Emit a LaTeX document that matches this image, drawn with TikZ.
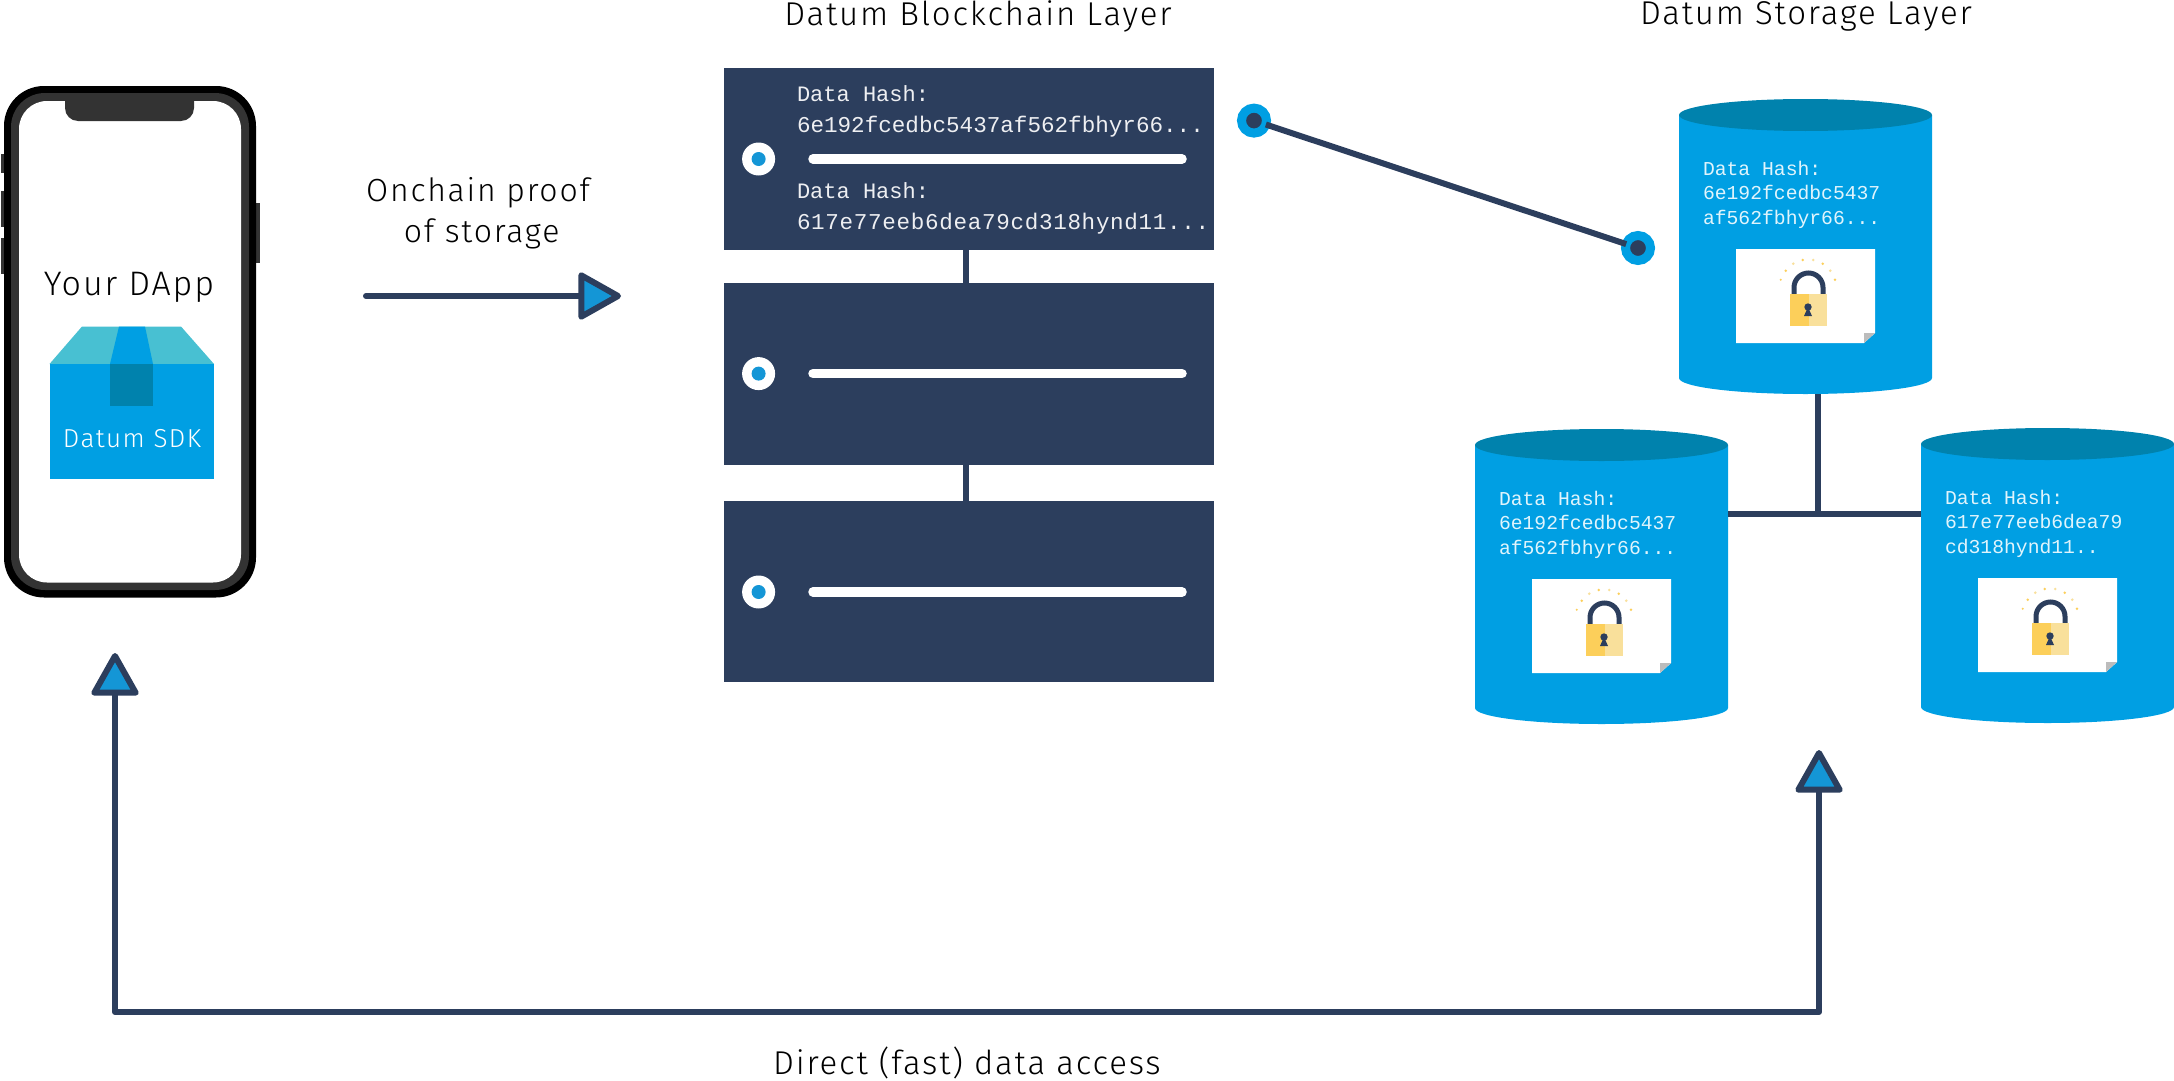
\documentclass[tikz,border=0pt]{standalone}
\usepackage{fontspec}
\setmainfont{Fira Sans}[UprightFont=* Light, LetterSpace=5.5]
\setmonofont{Liberation Mono}
\usetikzlibrary{arrows.meta}

\begin{document}
\begin{tikzpicture}[x=1pt,y=-1pt,line cap=butt,
	blockbox/.style={rectangle, fill=datumnavy, inner sep=0, outer sep=0, minimum width=489.6pt, minimum height=181.5pt, anchor=north west},
	storebox/.style={rectangle, inner sep=0, outer sep=0, minimum width=253pt, minimum height=295pt, anchor=north},
	wire/.style={line width=6pt, datumnavy},
	flow/.style={line width=6pt, datumnavy, line cap=round, line join=round},
	headtip/.tip={Triangle[length=46pt, width=50pt, round, fill=datumtip]},
	caption/.style={inner sep=0, outer sep=0, font=\fontsize{32pt}{32pt}\selectfont, anchor=base},
	bigcaption/.style={caption, font=\fontsize{33pt}{33pt}\selectfont},
	hashline/.style={inner sep=0, outer sep=0, white!92!datumnavy, font=\fontsize{22pt}{22pt}\ttfamily, anchor=base west},
	storeline/.style={inner sep=0, outer sep=0, white!88!datumblue, font=\fontsize{19.7pt}{19.7pt}\ttfamily, anchor=base west},
	ringdot/.style={circle, fill=white, inner sep=0, outer sep=0, minimum size=33pt},
	coredot/.style={circle, fill=datumtip, inner sep=0, outer sep=0, minimum size=14pt},
	linkdot/.style={circle, draw=datumblue, fill=datumnavy, line width=9pt, inner sep=0, outer sep=0, minimum size=25pt}]
	\definecolor{datumnavy}{RGB}{44, 62, 93}
	\definecolor{datumblue}{RGB}{0, 159, 227}
	\definecolor{datumdeep}{RGB}{0, 130, 173}
	\definecolor{datumtip}{RGB}{20, 150, 214}
	\definecolor{datumflap}{RGB}{72, 192, 210}
	\definecolor{phonegray}{RGB}{51, 51, 51}
	\definecolor{lockgold}{RGB}{252, 207, 90}
	\definecolor{lockpale}{RGB}{249, 224, 155}
	\definecolor{foldgray}{RGB}{188, 188, 188}
	\def\storedrum#1#2#3{
		\node [storebox] (#1) at (#2,#3) {};
		\begin{scope}[shift={(#2,#3)}]
			\fill [datumblue] (-126.5,16) -- (-126.5,279) arc (180:0:126.5 and 16) -- (126.5,16) -- cycle;
			\fill [datumdeep] (0,16) ellipse (126.5 and 16);
		\end{scope}
	}
	\def\storenote#1#2{
		\begin{scope}[shift={(#1,#2)}]
			\fill [white] (0,0) -- (139,0) -- (139,84) -- (128,94) -- (0,94) -- cycle;
			\fill [foldgray] (128,84) -- (139,84) -- (128,94) -- cycle;
			\draw [line width=5pt, datumnavy] (58,45) -- (58,38.5) arc (180:360:14.5 and 14.5) -- (87,45);
			\fill [lockgold] (54,45) rectangle (73,77);
			\fill [lockpale] (73,45) rectangle (91,77);
			\fill [datumnavy] (72,58) ellipse (3.7 and 3.7);
			\fill [datumnavy] (72,58) -- (76,67) -- (68,67) -- cycle;
			\fill [lockgold] (44.7,30.7) ellipse (1.1 and 1.1);
			\fill [lockgold] (49.7,21.7) ellipse (1.4 and 1.4);
			\fill [lockpale] (57.3,14.7) ellipse (1.4 and 1.4);
			\fill [lockgold] (66.7,11) ellipse (1.4 and 1.4);
			\fill [lockpale] (77.3,11) ellipse (1.4 and 1.4);
			\fill [lockgold] (86.7,14.7) ellipse (1.4 and 1.4);
			\fill [lockpale] (94.3,21.7) ellipse (1.4 and 1.4);
			\fill [lockgold] (99,30.7) ellipse (1.4 and 1.4);
		\end{scope}
	}
	\useasboundingbox (0,0) rectangle (2174,1081);
	% phone
	\fill [phonegray] (1,154) rectangle (6,172.5);
	\fill [phonegray] (1,191) rectangle (6,227);
	\fill [phonegray] (1,238) rectangle (6,274);
	\fill [phonegray] (254,203) rectangle (260,262.5);
	\node [rectangle, rounded corners=40pt, fill=black, inner sep=0, outer sep=0, minimum width=252pt, minimum height=511.5pt, anchor=north west] (phone) at (4,86) {};
	\node [rectangle, rounded corners=34pt, fill=phonegray, inner sep=0, outer sep=0, minimum width=238pt, minimum height=497pt, anchor=north west] (bezel) at (11,93) {};
	\node [rectangle, rounded corners=28pt, fill=white, inner sep=0, outer sep=0, minimum width=222pt, minimum height=481.5pt, anchor=north west] (screen) at (19,101) {};
	\fill [phonegray] (65,93) -- (65,108) arc (180:90:13 and 13) -- (181,121) arc (90:0:13 and 13) -- (194,93) -- cycle;
	\node [bigcaption, font=\fontsize{34pt}{34pt}\selectfont] (dapplabel) at (129,295) {Your DApp};
	% box
	\fill [datumflap] (82,326.5) -- (181,326.5) -- (214,364) -- (49.5,364) -- cycle;
	\fill [datumblue] (49.5,364) rectangle (214,478.5);
	\fill [datumblue] (119,326.5) -- (145,326.5) -- (153,364) -- (110,364) -- cycle;
	\fill [datumdeep] (110,364) rectangle (153,406);
	\node [caption, white, font=\fontsize{26pt}{26pt}\selectfont] (sdklabel) at (132,447) {Datum SDK};
	% onchain arrow
	\coordinate (proofstart) at (366,296);
	\coordinate (proofend) at (621,296);
	\draw [flow, -{headtip}] (proofstart) -- (proofend);
	\node [caption] (prooflabela) at (478,201.7) {Onchain proof};
	\node [caption] (prooflabelb) at (481.7,242.7) {of storage};
	% blockchain layer
	\node [bigcaption] (blocktitle) at (978,26) {Datum Blockchain Layer};
	\node [blockbox] (blocka) at (724,68.3) {};
	\node [blockbox] (blockb) at (724,283) {};
	\node [blockbox] (blockc) at (724,500.6) {};
	\draw [wire, line width=5.4pt] ([xshift=-3pt]blocka.south) -- ([xshift=-3pt]blockb.north);
	\draw [wire, line width=5.4pt] ([xshift=-3pt]blockb.south) -- ([xshift=-3pt]blockc.north);
	\node [ringdot] (ringa) at (758.6,159) {};
	\node [coredot] (corea) at (758.6,159) {};
	\node [ringdot] (ringb) at (758.6,373.6) {};
	\node [coredot] (coreb) at (758.6,373.6) {};
	\node [ringdot] (ringc) at (758.6,592) {};
	\node [coredot] (corec) at (758.6,592) {};
	\draw [line width=9.5pt, white, line cap=round] (813,159) -- (1182,159);
	\draw [line width=9.5pt, white, line cap=round] (813,373.6) -- (1182,373.6);
	\draw [line width=9.5pt, white, line cap=round] (813,592) -- (1182,592);
	\node [hashline] (hashtitlea) at (797,101) {Data Hash:};
	\node [hashline, font=\fontsize{22.6pt}{22.6pt}\ttfamily] (hashvaluea) at (797,132) {6e192fcedbc5437af562fbhyr66...};
	\node [hashline] (hashtitleb) at (797,198) {Data Hash:};
	\node [hashline, font=\fontsize{22.6pt}{22.6pt}\ttfamily\addfontfeature{LetterSpace=3}] (hashvalueb) at (797,229) {617e77eeb6dea79cd318hynd11...};
	% link to storage
	\node [linkdot] (linka) at (1254,120.6) {};
	\node [linkdot] (linkb) at (1638,248) {};
	\draw [wire] (linka) -- (linkb);
	% storage layer
	\node [bigcaption] (storetitle) at (1806,25) {Datum Storage Layer};
	\coordinate (junction) at (1818,514);
	\storedrum{storea}{1805.5}{99}
	\storedrum{storeb}{1601.5}{429}
	\storedrum{storec}{2047.5}{428}
	\draw [wire, line width=6.4pt] (storea.south -| junction) -- (junction);
	\draw [wire, line width=6.4pt] (storeb.east |- junction) -- (storec.west |- junction);
	\storenote{1736}{249}
	\storenote{1532}{579}
	\storenote{1978}{578}
	\node [storeline] (storeaa) at (1703,175) {Data Hash:};
	\node [storeline] (storeab) at (1703,199.5) {6e192fcedbc5437};
	\node [storeline] (storeac) at (1703,224) {af562fbhyr66...};
	\node [storeline] (storeba) at (1499,505) {Data Hash:};
	\node [storeline] (storebb) at (1499,529.5) {6e192fcedbc5437};
	\node [storeline] (storebc) at (1499,554) {af562fbhyr66...};
	\node [storeline] (storeca) at (1945,504) {Data Hash:};
	\node [storeline] (storecb) at (1945,528.5) {617e77eeb6dea79};
	\node [storeline] (storecc) at (1945,553) {cd318hynd11..};
	% direct access arrow
	\coordinate (accessphone) at (115,653);
	\coordinate (accessstore) at (1819,750);
	\coordinate (accessbend) at (115,1012);
	\draw [flow, {headtip}-{headtip}] (accessphone) -- (accessbend) -- (accessbend -| accessstore) -- (accessstore);
	\node [bigcaption] (accesslabel) at (967,1074) {Direct (fast) data access};
\end{tikzpicture}
\end{document}
